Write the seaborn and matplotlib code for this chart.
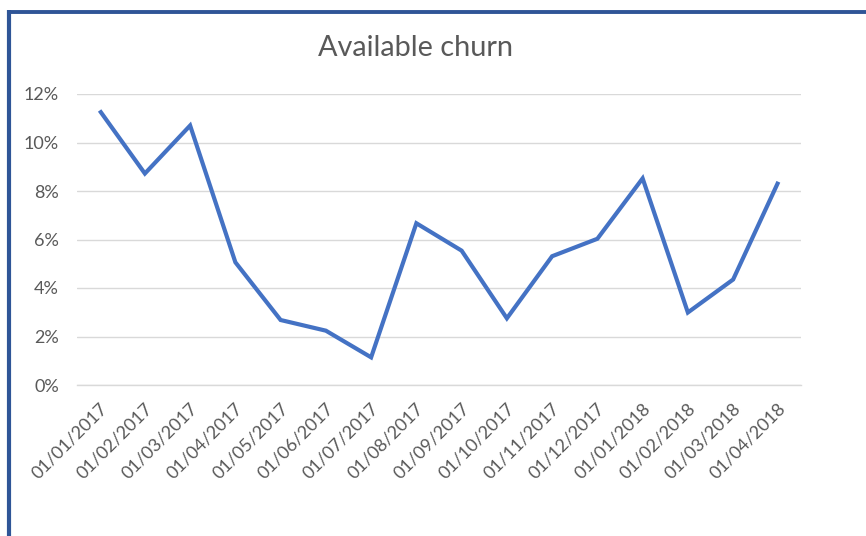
import matplotlib
matplotlib.use("Agg")
import matplotlib.pyplot as plt
import matplotlib.transforms as mtransforms
from matplotlib.lines import Line2D
from matplotlib.ticker import FixedLocator, FuncFormatter
import seaborn as sns
import pandas as pd

dates = ["01/01/2017", "01/02/2017", "01/03/2017", "01/04/2017", "01/05/2017",
         "01/06/2017", "01/07/2017", "01/08/2017", "01/09/2017", "01/10/2017",
         "01/11/2017", "01/12/2017", "01/01/2018", "01/02/2018", "01/03/2018",
         "01/04/2018"]
churn = [0.1132, 0.0872, 0.1070, 0.0506, 0.0268, 0.0224, 0.0114, 0.0667,
         0.0554, 0.0275, 0.0531, 0.0603, 0.0852, 0.0299, 0.0435, 0.0838]
y_ticks = [0.0, 0.02, 0.04, 0.06, 0.08, 0.10, 0.12]
title = "Available churn"

sns.set_style("white")
plt.rcParams['font.family'] = ['Lato', 'DejaVu Sans']

W, H = 866, 536
fig = plt.figure(figsize=(W / 100, H / 100), dpi=100)
ax = fig.add_axes([77 / W, 1 - 385 / H, (801 - 77) / W, (385 - 94) / H])

df = pd.DataFrame({"idx": list(range(len(dates))), "churn": churn})
sns.lineplot(data=df, x="idx", y="churn", ax=ax, color="#4472C4",
             linewidth=3.0, solid_joinstyle="miter", solid_capstyle="butt")

ax.set_xlim(-0.5, len(dates) - 0.5)
ax.set_ylim(0, 0.12)
ax.set_xlabel("")
ax.set_ylabel("")

# grid
ax.yaxis.set_major_locator(FixedLocator(y_ticks))
ax.yaxis.set_major_formatter(FuncFormatter(lambda v, p: f"{round(v * 100)}%"))
ax.grid(axis="y", color="#D9D9D9", linewidth=1.0)
ax.set_axisbelow(True)
for s in ["top", "right", "left"]:
    ax.spines[s].set_visible(False)
ax.spines["bottom"].set_color("#D9D9D9")
ax.spines["bottom"].set_linewidth(1.0)

ax.tick_params(axis="y", length=0, pad=13, labelsize=13, labelcolor="#595959")

ax.set_xticks(list(range(len(dates))))
ax.set_xticklabels(dates)
ax.set_xticks([i - 0.5 for i in range(len(dates) + 1)], minor=True)
ax.tick_params(axis="x", which="major", length=0, pad=15, labelsize=13,
               labelcolor="#595959")
ax.tick_params(axis="x", which="minor", length=5, width=1.0, color="#D9D9D9")
offset = mtransforms.ScaledTranslation(5 / 100, 0, fig.dpi_scale_trans)
for lab in ax.get_xticklabels():
    lab.set_rotation(45)
    lab.set_ha("right")
    lab.set_va("center")
    lab.set_rotation_mode("anchor")
    lab.set_transform(lab.get_transform() + offset)

fig.text(415 / W, 1 - 48 / H, title, ha="center", va="center",
         fontsize=20.8, color="#595959")

# chart border (blue frame, partially visible)
fig.add_artist(Line2D([7 / W, 1.0], [1 - 11.7 / H, 1 - 11.7 / H],
                      transform=fig.transFigure, color="#2F5597", linewidth=2.8,
                      solid_capstyle="butt"))
fig.add_artist(Line2D([9 / W, 9 / W], [1 - 10 / H, 0.0],
                      transform=fig.transFigure, color="#2F5597", linewidth=3.0,
                      solid_capstyle="butt"))

fig.savefig("out.png", dpi=100)
